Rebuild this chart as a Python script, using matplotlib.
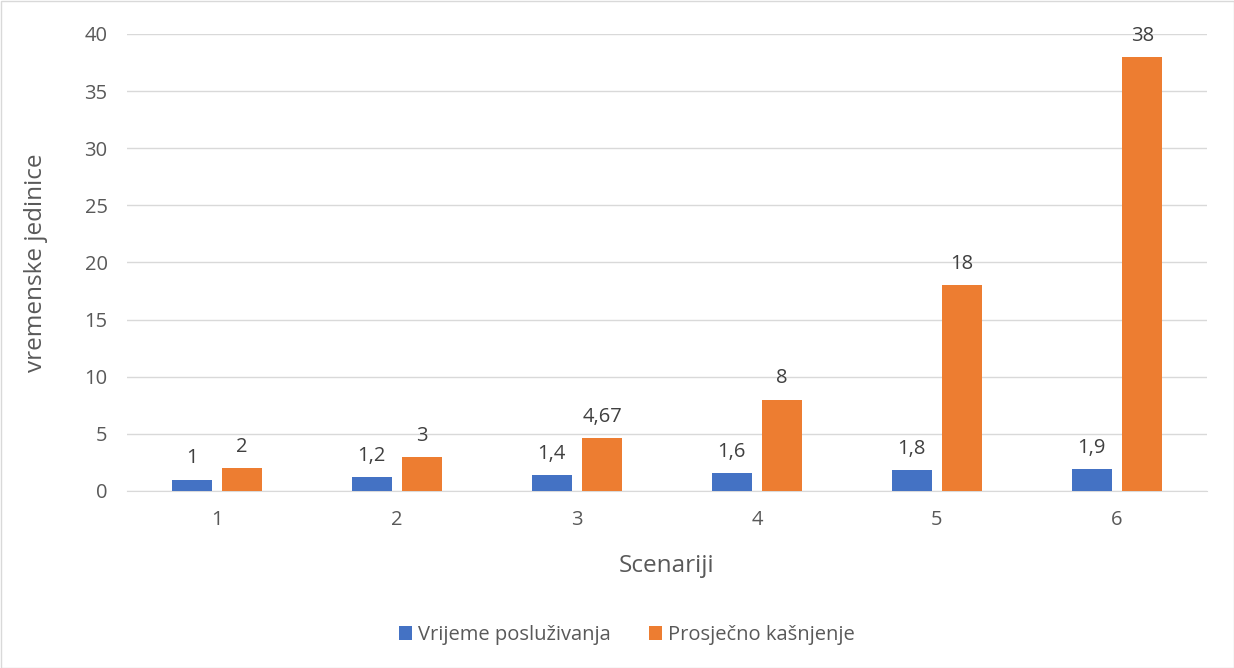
import numpy as np
import matplotlib.pyplot as plt

plt.rcParams['font.family'] = ['Open Sans', 'DejaVu Sans']

scenarios = ['1', '2', '3', '4', '5', '6']
service_time = [1, 1.2, 1.4, 1.6, 1.8, 1.9]
avg_delay = [2, 3, 4.67, 8, 18, 38]
series_names = ['Vrijeme posluživanja', 'Prosječno kašnjenje']

blue = '#4472C4'
orange = '#ED7D31'
grey = '#595959'


def fmt(v):
    return ('%g' % v).replace('.', ',')


fig = plt.figure(figsize=(12.34, 6.68), dpi=100)
ax = fig.add_axes([127 / 1234, 177 / 668, 1080 / 1234, 457 / 668])

x = np.arange(len(scenarios))
w = 0.222
off = 0.14
b1 = ax.bar(x - off, service_time, w, color=blue, label=series_names[0], zorder=3)
b2 = ax.bar(x + off, avg_delay, w, color=orange, label=series_names[1], zorder=3)

for bars, vals in ((b1, service_time), (b2, avg_delay)):
    for r, v in zip(bars, vals):
        ax.annotate(fmt(v), (r.get_x() + r.get_width() / 2, r.get_height()),
                    xytext=(0, 8), textcoords='offset points', ha='center', va='bottom',
                    fontsize=14.5, color='#404040')

ax.set_xlim(-0.5, 5.5)
ax.set_ylim(0, 40)
ax.set_yticks(range(0, 41, 5))
ax.set_xticks(x)
ax.set_xticklabels(scenarios)
ax.grid(axis='y', color='#D9D9D9', linewidth=1, zorder=0)
for s in ['top', 'right', 'left']:
    ax.spines[s].set_visible(False)
ax.spines['bottom'].set_color('#D9D9D9')
ax.tick_params(axis='both', length=0, labelsize=14.5, labelcolor=grey)
ax.tick_params(axis='x', pad=14)
ax.tick_params(axis='y', pad=14)
ax.set_xlabel('Scenariji', fontsize=17.5, color=grey, labelpad=17)
ax.set_ylabel('vremenske jedinice', fontsize=17.5, color=grey, labelpad=26)

ax.legend(loc='center', bbox_to_anchor=(0.463, -0.315), ncol=2, frameon=False,
          fontsize=14.5, labelcolor=grey, handlelength=0.65, handleheight=0.65,
          columnspacing=1.9, handletextpad=0.3)

fig.patches.append(plt.Rectangle((0.5 / 1234, 0.5 / 668), 1 - 1 / 1234, 1 - 1 / 668,
                                 transform=fig.transFigure, fill=False,
                                 edgecolor='#D9D9D9', linewidth=1))

fig.savefig('out.png', dpi=100)
